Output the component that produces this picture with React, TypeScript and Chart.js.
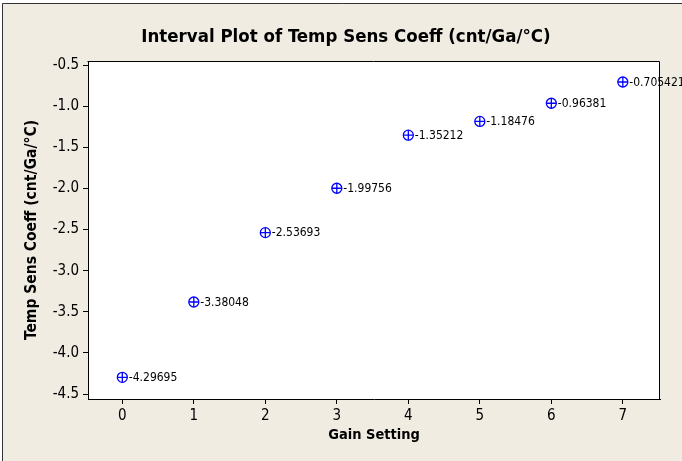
import { useEffect, useRef } from 'react';
import { Chart, registerables } from 'chart.js';

Chart.register(...registerables);

const gainSettings = [0, 1, 2, 3, 4, 5, 6, 7];
const coeffValues = [-4.29695, -3.38048, -2.53693, -1.99756, -1.35212, -1.18476, -0.96381, -0.705421];
const pointLabels = ['-4.29695', '-3.38048', '-2.53693', '-1.99756', '-1.35212', '-1.18476', '-0.96381', '-0.705421'];
const xTicks = [0, 1, 2, 3, 4, 5, 6, 7];
const yTicks = [-4.5, -4.0, -3.5, -3.0, -2.5, -2.0, -1.5, -1.0, -0.5];
const chartTitle = 'Interval Plot of Temp Sens Coeff (cnt/Ga/°C)';

const FONT = '"DejaVu Sans Condensed", "DejaVu Sans", sans-serif';
const CREAM = '#F0ECE2';
const BLUE = '#0000FF';

const decorPlugin = {
  id: 'decor',
  beforeDraw(chart: any) {
    const { ctx, width, height, chartArea } = chart;
    ctx.save();
    ctx.fillStyle = '#FFFFFF';
    ctx.fillRect(0, 0, width, height);
    ctx.fillStyle = CREAM;
    ctx.fillRect(2, 3, width, height);
    ctx.strokeStyle = '#333333';
    ctx.lineWidth = 1;
    ctx.beginPath();
    ctx.moveTo(2.5, height + 5);
    ctx.lineTo(2.5, 3.5);
    ctx.lineTo(width + 5, 3.5);
    ctx.stroke();
    ctx.fillStyle = '#FFFFFF';
    ctx.fillRect(chartArea.left, chartArea.top, chartArea.right - chartArea.left, chartArea.bottom - chartArea.top);
    ctx.fillStyle = '#000000';
    ctx.font = 'bold 18.5px ' + FONT;
    ctx.textAlign = 'center';
    ctx.textBaseline = 'middle';
    ctx.fillText(chartTitle, 346, 37);
    ctx.restore();
  },
  afterDraw(chart: any) {
    const { ctx, chartArea } = chart;
    ctx.save();
    ctx.strokeStyle = '#000000';
    ctx.lineWidth = 1;
    const l = Math.round(chartArea.left) - 0.5;
    const t = Math.round(chartArea.top) + 0.5;
    const r = Math.round(chartArea.right) - 0.5;
    const b = Math.round(chartArea.bottom);
    ctx.beginPath();
    ctx.moveTo(l, t);
    ctx.lineTo(r, t);
    ctx.lineTo(r, b);
    ctx.stroke();
    const meta = chart.getDatasetMeta(0);
    meta.data.forEach((pt: any, i: number) => {
      const rr = 5;
      ctx.strokeStyle = BLUE;
      ctx.lineWidth = 1.3;
      ctx.beginPath();
      ctx.moveTo(pt.x - rr, pt.y);
      ctx.lineTo(pt.x + rr, pt.y);
      ctx.moveTo(pt.x, pt.y - rr);
      ctx.lineTo(pt.x, pt.y + rr);
      ctx.stroke();
      ctx.fillStyle = '#000000';
      ctx.font = '12px ' + FONT;
      ctx.textAlign = 'left';
      ctx.textBaseline = 'middle';
      ctx.fillText(pointLabels[i], pt.x + 6.5, pt.y + 0.5);
    });
    ctx.restore();
  },
};

export default function App() {
  const ref = useRef<HTMLCanvasElement>(null);
  useEffect(() => {
    document.body.style.margin = '0';
    const chart = new Chart(ref.current!, {
      type: 'scatter',
      data: {
        datasets: [
          {
            data: gainSettings.map((x, i) => ({ x, y: coeffValues[i] })),
            pointStyle: 'circle',
            pointRadius: 5,
            pointBorderColor: BLUE,
            pointBackgroundColor: 'rgba(0,0,0,0)',
            pointBorderWidth: 1.3,
            showLine: false,
          },
        ],
      },
      options: {
        responsive: false,
        animation: false,
        layout: { padding: { top: 61, right: 22, bottom: 0, left: 0 } },
        plugins: {
          legend: { display: false },
          tooltip: { enabled: false },
          title: { display: false },
        },
        scales: {
          x: {
            type: 'linear',
            min: -0.48,
            max: 7.52,
            afterBuildTicks: (scale: any) => {
              scale.ticks = xTicks.map((v) => ({ value: v }));
            },
            afterFit: (scale: any) => {
              scale.height = 62;
            },
            grid: { display: true, drawOnChartArea: false, drawTicks: true, tickLength: 5, color: '#000000' },
            border: { display: true, color: '#000000', width: 1 },
            ticks: {
              color: '#000000',
              font: { family: FONT, size: 15 },
              padding: 3,
              maxRotation: 0,
              callback: (v: any) => String(v),
            },
            title: {
              display: true,
              text: 'Gain Setting',
              color: '#000000',
              font: { family: FONT, size: 14.5, weight: 'bold', lineHeight: 1.2 },
              padding: { top: 0, bottom: 17.3 },
            },
          },
          y: {
            type: 'linear',
            min: -4.56,
            max: -0.45,
            afterBuildTicks: (scale: any) => {
              scale.ticks = yTicks.map((v) => ({ value: v }));
            },
            afterFit: (scale: any) => {
              scale.width = 88;
            },
            grid: { display: true, drawOnChartArea: false, drawTicks: true, tickLength: 5, color: '#000000' },
            border: { display: true, color: '#000000', width: 1 },
            ticks: {
              color: '#000000',
              font: { family: FONT, size: 15 },
              padding: 4,
              callback: (v: any) => Number(v).toFixed(1),
            },
            title: {
              display: true,
              text: 'Temp Sens Coeff (cnt/Ga/°C)',
              color: '#000000',
              font: { family: FONT, size: 15.5, weight: 'bold', lineHeight: 1.2 },
              padding: { top: 22.7, bottom: 0 },
            },
          },
        },
      },
      plugins: [decorPlugin],
    });
    return () => chart.destroy();
  }, []);
  return (
    <div style={{ width: 682, height: 461 }}>
      <canvas ref={ref} width={682} height={461} style={{ display: 'block' }} />
    </div>
  );
}
